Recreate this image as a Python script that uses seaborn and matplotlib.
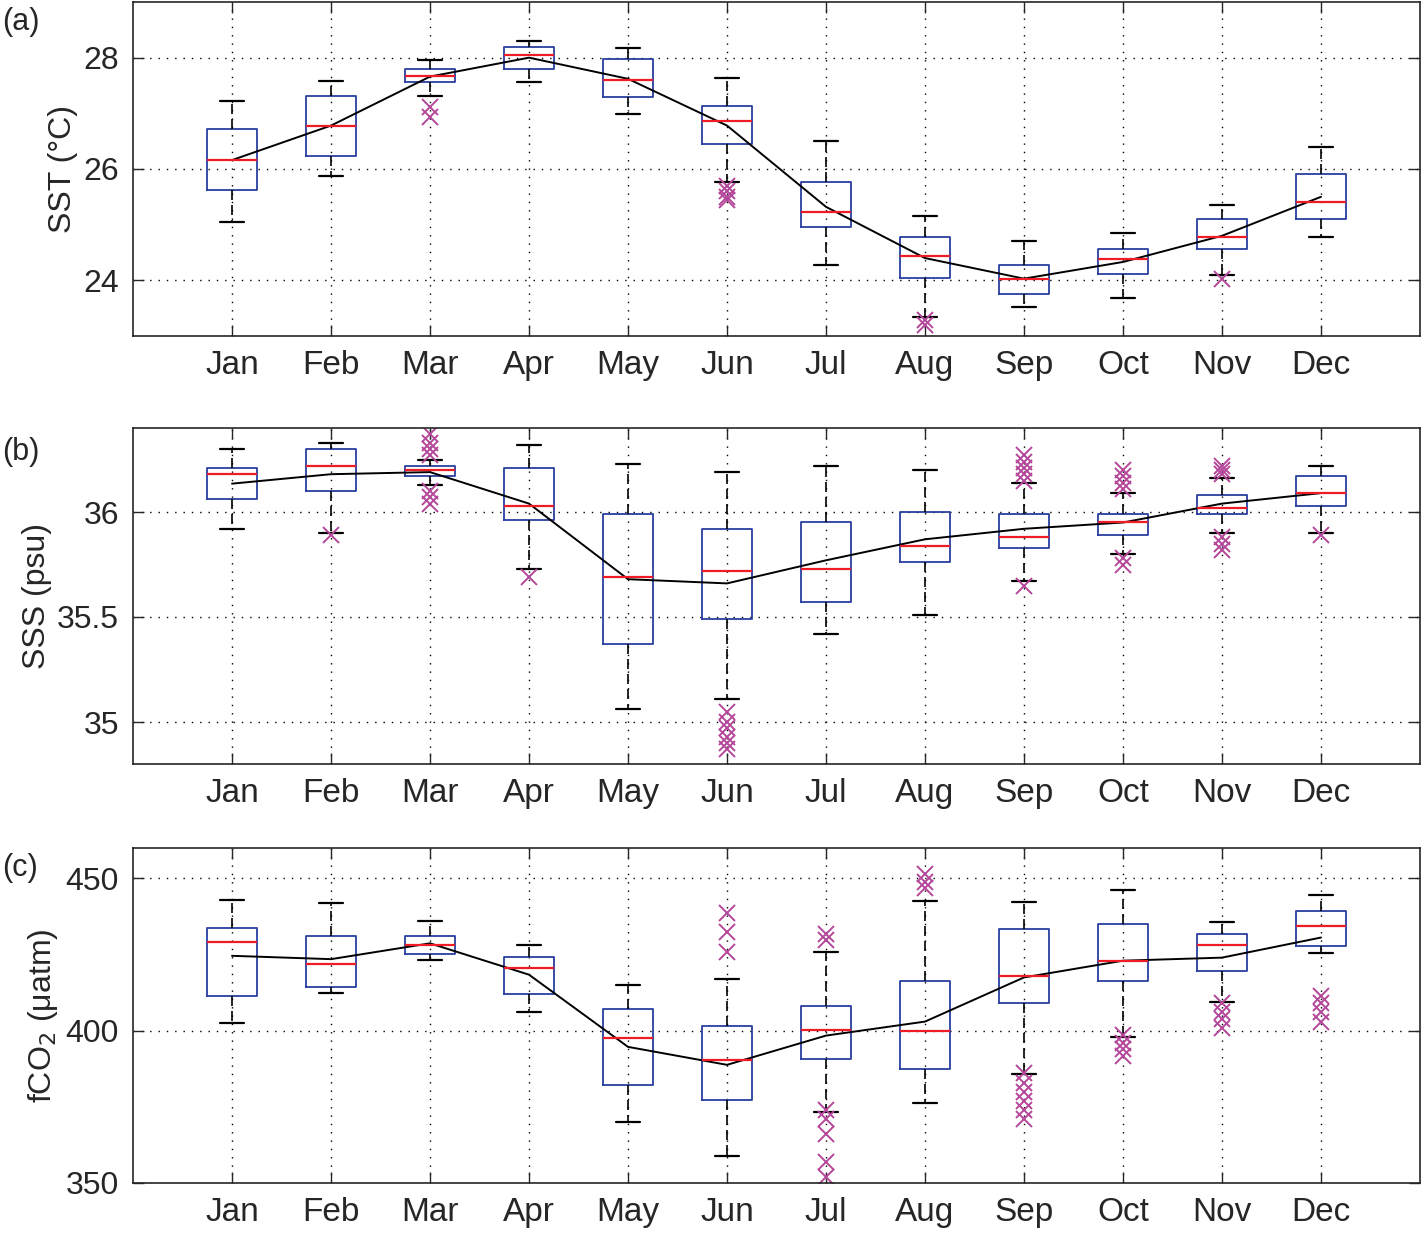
import numpy as np
import pandas as pd
import seaborn as sns
import matplotlib
matplotlib.use("Agg")
import matplotlib.pyplot as plt

months = ['Jan', 'Feb', 'Mar', 'Apr', 'May', 'Jun', 'Jul', 'Aug', 'Sep', 'Oct', 'Nov', 'Dec']

# SST (°C): lower whisker, q1, median, q3, upper whisker, mean, outliers
sst_lo = [25.04, 25.87, 27.32, 27.56, 26.98, 25.77, 24.28, 23.34, 23.52, 23.68, 24.09, 24.77]
sst_q1 = [25.62, 26.24, 27.56, 27.80, 27.29, 26.45, 24.96, 24.05, 23.76, 24.11, 24.57, 25.10]
sst_med = [26.17, 26.78, 27.67, 28.04, 27.59, 26.86, 25.22, 24.43, 24.03, 24.38, 24.78, 25.40]
sst_q3 = [26.71, 27.31, 27.80, 28.19, 27.98, 27.14, 25.76, 24.77, 24.27, 24.56, 25.10, 25.91]
sst_hi = [27.22, 27.58, 27.96, 28.30, 28.17, 27.64, 26.50, 25.16, 24.70, 24.85, 25.35, 26.39]
sst_mean = [26.16, 26.78, 27.66, 28.00, 27.62, 26.78, 25.32, 24.40, 24.03, 24.33, 24.80, 25.50]
sst_out = [[], [], [27.11, 26.93], [], [], [25.70, 25.60, 25.50, 25.45], [],
           [23.28, 23.20], [], [], [24.03], []]

# SSS (psu)
sss_lo = [35.92, 35.90, 36.13, 35.73, 35.06, 35.11, 35.42, 35.51, 35.67, 35.80, 35.90, 35.90]
sss_q1 = [36.06, 36.10, 36.17, 35.96, 35.37, 35.49, 35.57, 35.76, 35.83, 35.89, 35.99, 36.03]
sss_med = [36.18, 36.22, 36.20, 36.03, 35.69, 35.72, 35.73, 35.84, 35.88, 35.95, 36.02, 36.09]
sss_q3 = [36.21, 36.30, 36.22, 36.21, 35.99, 35.92, 35.95, 36.00, 35.99, 35.99, 36.08, 36.17]
sss_hi = [36.30, 36.33, 36.25, 36.32, 36.23, 36.19, 36.22, 36.20, 36.14, 36.09, 36.16, 36.22]
sss_mean = [36.135, 36.18, 36.19, 36.04, 35.68, 35.66, 35.77, 35.87, 35.92, 35.95, 36.04, 36.09]
sss_out = [[], [35.89], [36.37, 36.33, 36.30, 36.27, 36.10, 36.07, 36.04], [35.69], [],
           [35.05, 35.00, 34.97, 34.93, 34.90, 34.87], [], [],
           [36.27, 36.24, 36.21, 36.18, 36.15, 35.65], [36.20, 36.17, 36.14, 36.11, 35.78, 35.75],
           [36.22, 36.20, 36.18, 35.88, 35.85, 35.82], [35.89]]

# fCO2 (µatm)
fco2_lo = [402.6, 412.5, 423.1, 406.2, 370.1, 359.0, 373.2, 376.4, 385.7, 397.8, 409.5, 425.6]
fco2_q1 = [411.4, 414.2, 425.1, 411.9, 382.1, 377.4, 390.7, 387.4, 409.1, 416.2, 419.5, 427.9]
fco2_med = [429.2, 421.9, 428.3, 420.5, 397.5, 390.4, 400.4, 399.8, 418.0, 422.9, 428.1, 434.5]
fco2_q3 = [433.7, 431.2, 431.1, 424.2, 407.1, 401.5, 408.2, 416.2, 433.4, 435.2, 431.8, 439.2]
fco2_hi = [443.0, 441.8, 436.1, 428.3, 415.0, 417.1, 425.7, 442.5, 442.2, 446.2, 435.8, 444.6]
fco2_mean = [424.6, 423.5, 428.7, 418.4, 394.7, 388.8, 398.4, 403.0, 417.5, 423.0, 424.0, 430.6]
fco2_out = [[], [], [], [], [], [438.8, 432.3, 425.9],
            [431.7, 429.9, 374.0, 371.0, 366.0, 357.0, 352.0], [451.4, 449.0, 447.0],
            [386.0, 383.0, 380.0, 377.0, 374.0, 371.0], [398.6, 396.0, 394.0, 391.7],
            [409.0, 406.0, 404.0, 401.0], [411.5, 409.0, 406.0, 403.0]]

sns.set_style("ticks")
plt.rcParams['font.family'] = ['Liberation Sans', 'DejaVu Sans']

fig = plt.figure(figsize=(14.22, 12.34), dpi=100)
W, H = 1422, 1234

def make_axes(x0, y0, x1, y1):
    return fig.add_axes([x0 / W, 1 - y1 / H, (x1 - x0) / W, (y1 - y0) / H])

panels = [
    (make_axes(133, 2, 1420, 336), sst_lo, sst_q1, sst_med, sst_q3, sst_hi, sst_mean, sst_out,
     (23.0, 29.0), [24, 26, 28], ['24', '26', '28'], 'SST (°C)', '(a)', 22),
    (make_axes(133, 428, 1420, 764), sss_lo, sss_q1, sss_med, sss_q3, sss_hi, sss_mean, sss_out,
     (34.8, 36.4), [35, 35.5, 36], ['35', '35.5', '36'], 'SSS (psu)', '(b)', 452),
    (make_axes(133, 848, 1420, 1183), fco2_lo, fco2_q1, fco2_med, fco2_q3, fco2_hi, fco2_mean, fco2_out,
     (350, 460), [350, 400, 450], ['350', '400', '450'], 'fCO$_2$ (μatm)', '(c)', 868),
]

pos = np.arange(1, 13)
for ax, lo, q1, med, q3, hi, mean, out, ylim, yt, ytl, ylab, letter, ly in panels:
    stats = []
    for i in range(12):
        stats.append(dict(whislo=lo[i], q1=q1[i], med=med[i], q3=q3[i], whishi=hi[i],
                          fliers=np.array(out[i])))
    ax.bxp(stats, positions=pos, widths=0.5, showcaps=True,
           boxprops=dict(color='#2a3fa0', linewidth=1.3),
           medianprops=dict(color='#ee1c24', linewidth=1.6),
           whiskerprops=dict(color='black', linewidth=1.2, linestyle=(0, (6, 3))),
           capprops=dict(color='black', linewidth=1.6),
           flierprops=dict(marker='x', markeredgecolor='#b5479b', markersize=12,
                           markeredgewidth=1.4, linestyle='none'))
    df = pd.DataFrame({'pos': pos, 'mean': mean})
    sns.lineplot(data=df, x='pos', y='mean', ax=ax, color='black', linewidth=1.4)
    ax.set_xlim(0, 13)
    ax.set_ylim(*ylim)
    ax.set_xticks(pos)
    ax.set_xticklabels(months, fontsize=24)
    ax.set_yticks(yt)
    ax.set_yticklabels(ytl, fontsize=23)
    ax.set_xlabel('')
    ax.set_ylabel(ylab, fontsize=23)
    ax.grid(True, linestyle=(0, (1, 5)), color='black', linewidth=1.0)
    ax.tick_params(direction='in', top=True, right=True, length=8, width=1, pad=10)
    for s in ax.spines.values():
        s.set_linewidth(1.2)
    fig.text(2 / W, 1 - ly / H, letter, fontsize=22, ha='left', va='center')

fig.savefig('out.png', dpi=100)
